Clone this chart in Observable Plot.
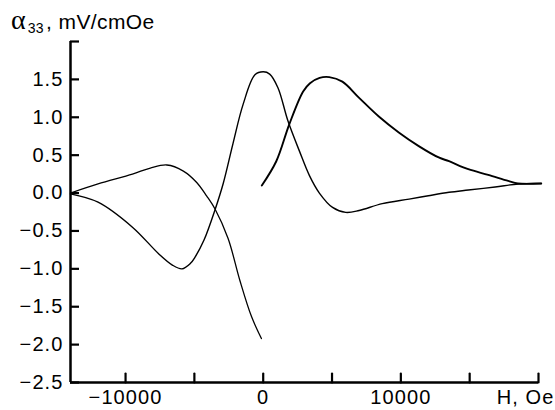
<!DOCTYPE html>
<html><head><meta charset="utf-8">
<script src="https://cdn.jsdelivr.net/npm/d3@7"></script>
<script src="https://cdn.jsdelivr.net/npm/@observablehq/plot@0.6"></script>
<style>
body{margin:0;background:#fff;}
#wrap{position:relative;width:555px;height:410px;}
#title{position:absolute;left:11px;top:4px;font-family:"Liberation Sans",Arial,sans-serif;font-size:21px;letter-spacing:0.4px;color:#000;white-space:nowrap;}
#title .a{font-family:"Liberation Serif","Times New Roman",serif;font-size:28px;letter-spacing:0;}
#title sub{font-size:14px;vertical-align:-4px;margin-left:2px;margin-right:2px;}
</style></head><body>
<div id="wrap"><div id="title"><span class="a">α</span><sub>33</sub>, mV/cmOe</div></div>
<script>
// Curve A: from -14000 up to small max, then down to -1.92 at H=0
const hA = [-14000, -12000, -9500, -8200, -7000, -5800, -4830, -4100, -3500, -2550, -1700, -850, -130];
const vA = [0.0, 0.12, 0.25, 0.33, 0.37, 0.29, 0.14, -0.04, -0.21, -0.6, -1.15, -1.63, -1.92];
// Curve B: from -14000 down to -1.0, up to 1.6 at 0, down to -0.25, up to 0.13
const hB = [-14000, -12000, -9500, -7600, -6600, -5900, -5300, -4950, -4300, -3500, -2900, -2200, -1460, -600, 0, 470, 1070, 1800, 2640, 3360, 4080, 5040, 6000, 6970, 8650, 10600, 12000, 13500, 14900, 16850, 18530, 20200];
const vB = [-0.01, -0.12, -0.45, -0.8, -0.95, -1.0, -0.93, -0.845, -0.62, -0.22, 0.13, 0.65, 1.17, 1.56, 1.6, 1.57, 1.39, 0.95, 0.55, 0.23, 0.0, -0.19, -0.255, -0.23, -0.14, -0.08, -0.035, 0.01, 0.04, 0.08, 0.12, 0.126];
// Curve C: from 0 up to 1.52, down to 0.13
const hC = [-100, 950, 1900, 2900, 3400, 4100, 4800, 5750, 6950, 8400, 9850, 11300, 12750, 13500, 14900, 16350, 17800, 18500, 20200];
const vC = [0.1, 0.42, 0.91, 1.34, 1.45, 1.52, 1.53, 1.47, 1.26, 1.01, 0.8, 0.62, 0.47, 0.42, 0.315, 0.24, 0.16, 0.126, 0.126];

const xDomain = [-14000, 20000];
const yDomain = [-2.5, 2.0];
const xTicks = [-10000, -5000, 0, 5000, 10000, 15000, 20000];
const xTickLabels = ["\u221210000", "", "0", "", "10000", "", ""];
const xAxisLabel = "H, Oe";
const yTicks = [-2.5, -2.0, -1.5, -1.0, -0.5, 0.0, 0.5, 1.0, 1.5, 2.0];
const yTickLabels = ["\u22122.5", "\u22122.0", "\u22121.5", "\u22121.0", "\u22120.5", "0.0", "0.5", "1.0", "1.5", ""];

const toRows = (hs, vs) => hs.map((h, i) => ({h, v: vs[i]}));
const xLab = new Map(xTicks.map((t, i) => [t, xTickLabels[i]]));
const yLab = new Map(yTicks.map((t, i) => [t, yTickLabels[i]]));
const TICK = 9;
const tickShape = {draw(context, l) { context.moveTo(0, 0); context.lineTo(0, -l); }};

const chart = Plot.plot({
  width: 555, height: 410,
  marginLeft: 70, marginRight: 17, marginTop: 41, marginBottom: 28,
  x: {domain: xDomain},
  y: {domain: yDomain},
  style: {fontFamily: '"Liberation Sans", Arial, sans-serif', fontSize: "20px", letterSpacing: "1.1px", background: "white", color: "black", overflow: "visible"},
  marks: [
    Plot.ruleY([yDomain[0]], {stroke: "black", strokeWidth: 2.5}),
    Plot.ruleX([xDomain[0]], {stroke: "black", strokeWidth: 2.5}),
    Plot.vector(xTicks, {x: d => d, frameAnchor: "bottom", anchor: "start", rotate: 0, length: TICK, shape: tickShape, stroke: "black", strokeWidth: 2.2}),
    Plot.axisY(yTicks, {tickSize: TICK, dx: TICK, strokeWidth: 2.2, stroke: "black", text: null, label: null}),
    Plot.axisX(xTicks, {tickSize: 0, tickPadding: 7, tickFormat: d => xLab.get(d), label: null}),
    Plot.axisY(yTicks, {tickSize: 0, tickPadding: 7, tickFormat: d => yLab.get(d), label: null}),
    Plot.text([xTicks[xTicks.length - 1]], {x: d => d, frameAnchor: "bottom", lineAnchor: "top", textAnchor: "end", dx: 16, dy: 7, text: () => xAxisLabel}),
    Plot.line(toRows(hA, vA), {x: "h", y: "v", curve: "catmull-rom", stroke: "black", strokeWidth: 1.3}),
    Plot.line(toRows(hB, vB), {x: "h", y: "v", curve: "catmull-rom", stroke: "black", strokeWidth: 1.4}),
    Plot.line(toRows(hC, vC), {x: "h", y: "v", curve: "catmull-rom", stroke: "black", strokeWidth: 1.9})
  ]
});
document.getElementById("wrap").prepend(chart);
</script>
</body></html>
